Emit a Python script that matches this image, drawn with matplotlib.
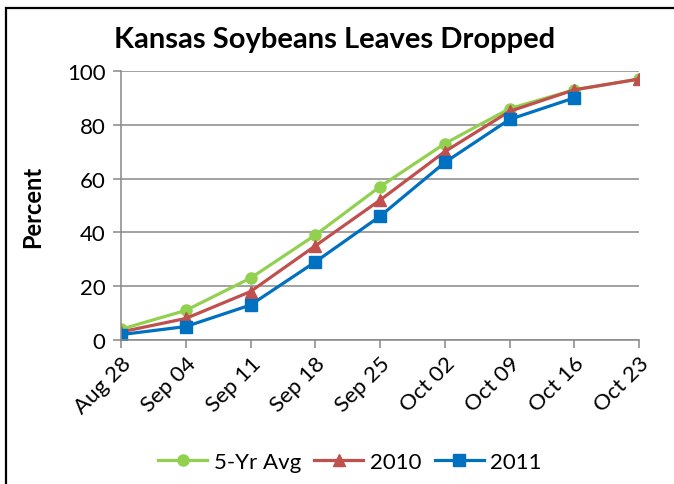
import matplotlib
matplotlib.use("Agg")
import matplotlib.pyplot as plt
from matplotlib.patches import Rectangle

dates = ["Aug 28", "Sep 04", "Sep 11", "Sep 18", "Sep 25", "Oct 02", "Oct 09", "Oct 16", "Oct 23"]
avg5 = [4, 11, 23, 39, 57, 73, 86, 93, 97]
y2010 = [3, 8, 18, 35, 52, 70, 85, 93, 97]
y2011 = [2, 5, 13, 29, 46, 66, 82, 90]

plt.rcParams['font.family'] = ['Lato', 'DejaVu Sans']

fig = plt.figure(figsize=(6.74, 4.85), dpi=100)
ax = fig.add_axes([121/674, 1-341/485, 518/674, 269/485])

x = list(range(len(dates)))
ax.plot(x, avg5, color='#92D050', lw=2.3, marker='o', ms=8, label='5-Yr Avg')
ax.plot(x, y2010, color='#C0504D', lw=2.3, marker='^', ms=9, label='2010')
ax.plot(x[:len(y2011)], y2011, color='#0070C0', lw=2.3, marker='s', ms=8, label='2011')

ax.set_xlim(0, len(dates)-1)
ax.set_ylim(0, 100)
ax.set_yticks([0, 20, 40, 60, 80, 100])
ax.set_xticks(x)
ax.set_xticklabels(dates, rotation=45, ha='right', rotation_mode='anchor')
ax.tick_params(axis='both', labelsize=16, color='#888888', width=1.1, length=6)
ax.tick_params(axis='x', pad=3)
ax.tick_params(axis='y', pad=5)
ax.grid(axis='y', color='#888888', lw=1.1)
ax.set_axisbelow(True)
for s in ['top', 'right']:
    ax.spines[s].set_visible(False)
for s in ['left', 'bottom']:
    ax.spines[s].set_color('#888888')
    ax.spines[s].set_linewidth(1.1)
for lab in ax.get_xticklabels() + ax.get_yticklabels():
    lab.set_clip_on(False)

ax.set_ylabel('Percent', fontsize=17, fontweight='bold')
ax.yaxis.set_label_coords((44-121)/518, 0.5)
fig.text(335/674, 1-40/485, 'Kansas Soybeans Leaves Dropped', fontsize=21, fontweight='bold',
         ha='center', va='center')

leg = fig.legend(loc='center', bbox_to_anchor=(350/674, 1-463/485), ncol=3, frameon=False,
                 fontsize=16, handlelength=2.2, columnspacing=0.6, handletextpad=0.3)

fig.patches.append(Rectangle((6/674, -0.05), 1, 1.05-9/485, transform=fig.transFigure,
                             fill=False, edgecolor='black', lw=1.6))

fig.savefig('out.png', dpi=100)
